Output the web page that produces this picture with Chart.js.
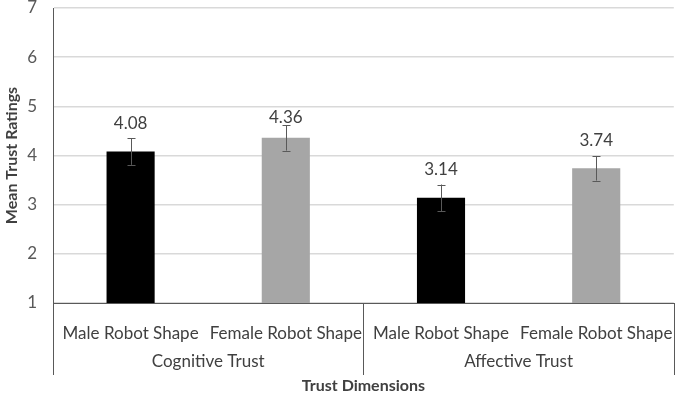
<!DOCTYPE html>
<html>
<head>
<meta charset="utf-8">
<script src="https://cdn.jsdelivr.net/npm/chart.js@4.4.1/dist/chart.umd.min.js"></script>
<style>
  html, body { margin: 0; padding: 0; background: #fff; }
  #wrap { width: 685px; height: 397px; }
</style>
</head>
<body>
<div id="wrap"><canvas id="c" width="685" height="397"></canvas></div>
<script>
const categories = ['Male Robot Shape', 'Female Robot Shape', 'Male Robot Shape', 'Female Robot Shape'];
const groups = ['Cognitive Trust', 'Affective Trust'];
const meanValues = [4.08, 4.36, 3.14, 3.74];
const errorValues = [0.27, 0.26, 0.27, 0.25];
const barColors = ['#000000', '#a6a6a6', '#000000', '#a6a6a6'];
const yTicks = [1, 2, 3, 4, 5, 6, 7];

const FONT = 'Lato, "Open Sans", sans-serif';
const TXT = '#404040';

const extrasPlugin = {
  id: 'extras',
  afterDatasetsDraw(chart) {
    const ctx = chart.ctx;
    const x = chart.scales.x, y = chart.scales.y;
    const meta = chart.getDatasetMeta(0);
    ctx.save();
    ctx.strokeStyle = '#595959';
    ctx.lineWidth = 1;
    meta.data.forEach((bar, i) => {
      const cx = Math.round(bar.x) + 0.5;
      const top = y.getPixelForValue(meanValues[i] + errorValues[i]);
      const bot = y.getPixelForValue(meanValues[i] - errorValues[i]);
      ctx.beginPath();
      ctx.moveTo(cx, top); ctx.lineTo(cx, bot);
      ctx.moveTo(cx - 4, Math.round(top) + 0.5); ctx.lineTo(cx + 4, Math.round(top) + 0.5);
      ctx.moveTo(cx - 4, Math.round(bot) + 0.5); ctx.lineTo(cx + 4, Math.round(bot) + 0.5);
      ctx.stroke();
    });
    const nudge = chart.options.plugins.extras.labelNudge;
    ctx.fillStyle = TXT;
    ctx.font = '17px ' + FONT;
    ctx.textAlign = 'center';
    ctx.textBaseline = 'middle';
    meta.data.forEach((bar, i) => {
      ctx.fillText(meanValues[i].toFixed(2), bar.x, bar.y - 28 + nudge[i]);
    });
    ctx.strokeStyle = '#595959';
    ctx.beginPath();
    const yTop = chart.chartArea.bottom;
    const yBot = yTop + 72;
    const mid = (x.getPixelForValue(1) + x.getPixelForValue(2)) / 2;
    [x.left, mid, x.right].forEach(px => {
      const p = Math.round(px) + 0.5;
      ctx.moveTo(p, yTop); ctx.lineTo(p, yBot);
    });
    ctx.stroke();
    ctx.restore();
  }
};

new Chart(document.getElementById('c'), {
  type: 'bar',
  data: {
    labels: categories,
    datasets: [{
      data: meanValues,
      backgroundColor: barColors,
      borderWidth: 0,
      barPercentage: 0.62,
      categoryPercentage: 0.5
    }]
  },
  options: {
    responsive: false,
    animation: false,
    devicePixelRatio: 1,
    layout: { padding: { left: 2, right: 5, top: 8, bottom: 2 } },
    plugins: {
      legend: { display: false },
      tooltip: { enabled: false },
      extras: { labelNudge: [0, 8, 0, 0] }
    },
    scales: {
      y: {
        min: 1, max: 7,
        afterBuildTicks(s) { s.ticks = yTicks.map(v => ({ value: v })); },
        afterFit(s) { s.width = 51; s.paddingTop = 0; s.paddingBottom = 0; },
        ticks: { color: '#595959', font: { family: FONT, size: 17 }, padding: 16 },
        grid: { color: '#d9d9d9', lineWidth: 1.5, drawTicks: false },
        border: { display: true, color: '#595959', width: 1 },
        title: { display: true, text: 'Mean Trust Ratings', color: TXT, font: { family: FONT, size: 16, weight: 'bold' }, padding: { top: 0, bottom: 0 } }
      },
      x: {
        afterFit(s) { s.height = 40; },
        ticks: { color: TXT, font: { family: FONT, size: 17 }, maxRotation: 0, autoSkip: false, padding: 12 },
        grid: { display: false },
        border: { display: true, color: '#595959', width: 1 }
      },
      x2: {
        type: 'category',
        position: 'bottom',
        labels: groups,
        offset: true,
        afterFit(s) { s.height = 52; },
        ticks: { color: TXT, font: { family: FONT, size: 17 }, padding: 0 },
        grid: { display: false },
        border: { display: false },
        title: { display: true, text: 'Trust Dimensions', color: TXT, font: { family: FONT, size: 16, weight: 'bold' }, padding: { top: 8, bottom: 0 } }
      }
    }
  },
  plugins: [extrasPlugin]
});
</script>
</body>
</html>
